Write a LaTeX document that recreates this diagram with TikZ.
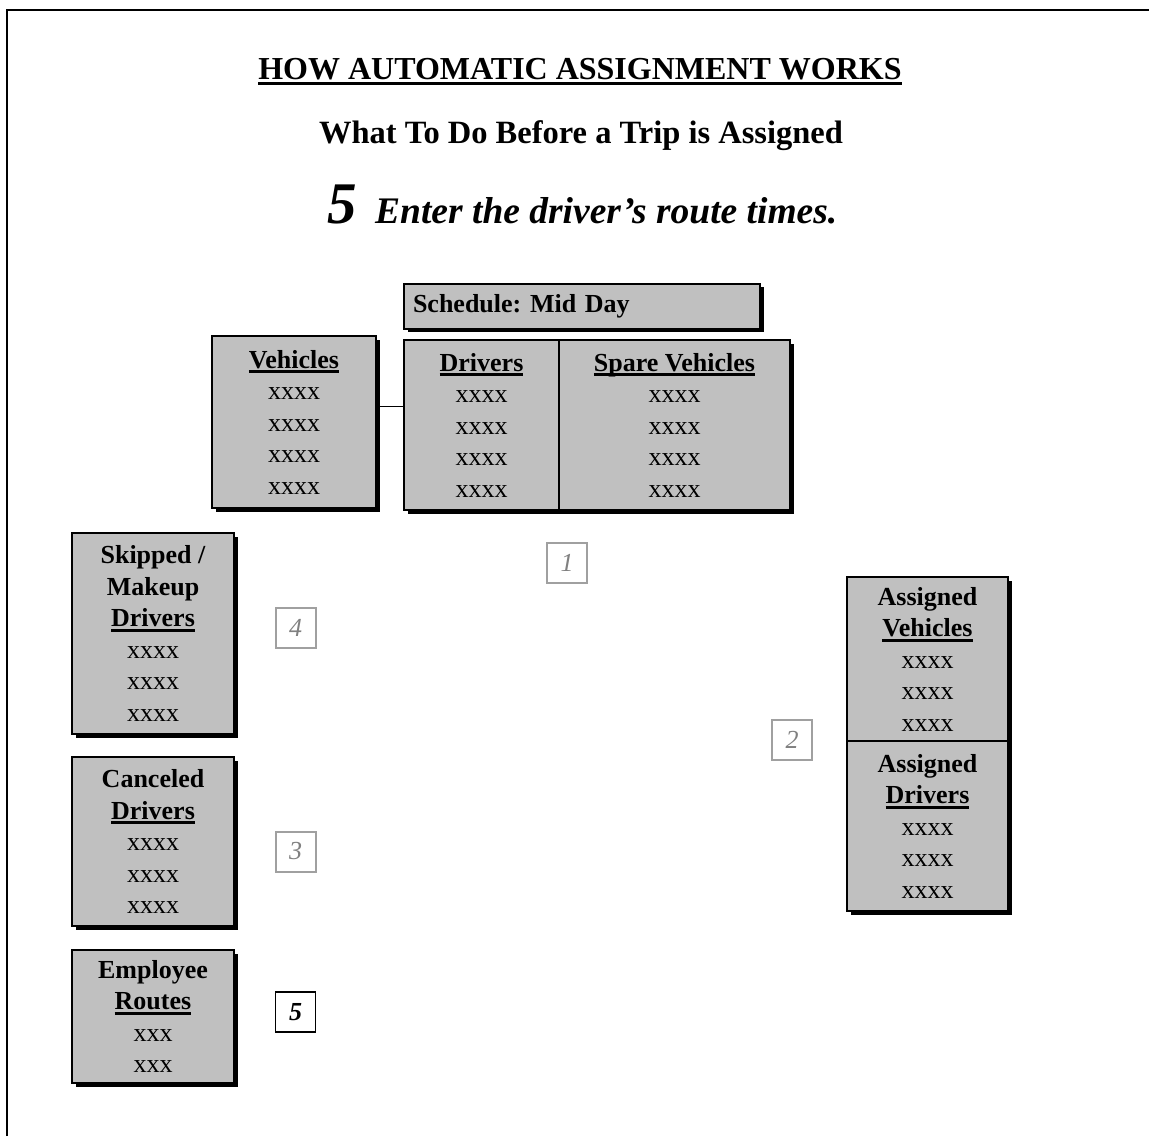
\documentclass[tikz,border=0pt]{standalone}
\usepackage{fontspec}
\setmainfont{Liberation Serif}
\usetikzlibrary{shadows}
\definecolor{boxgray}{HTML}{C0C0C0}
\definecolor{numgray}{HTML}{A0A0A0}
\definecolor{digitgray}{HTML}{808080}
\newcommand{\uln}[1]{\setbox0\hbox{#1}\rlap{\rule[-0.2em]{\wd0}{0.11em}}\box0}
\frenchspacing

\begin{document}
\begin{tikzpicture}[x=1pt,y=-1pt,
  tbl/.style={draw,line width=2pt,fill=boxgray,inner sep=0pt,align=center,
    font=\fontsize{26}{31.5}\selectfont,
    drop shadow={shadow xshift=3.5pt,shadow yshift=-3.5pt,fill=black,opacity=1}},
  numbox/.style={draw=numgray,line width=2pt,minimum size=40pt,inner sep=0pt,
    text=digitgray,font=\fontsize{26}{26}\selectfont\itshape}]
\useasboundingbox (0,0) rectangle (1149,1136);
\draw[line width=2.5pt] (7,1136) -- (7,10) -- (1149,10);
% headings
\node[anchor=base,font=\fontsize{32}{32}\selectfont\bfseries] (title) at (580,79) {\uln{HOW AUTOMATIC ASSIGNMENT WORKS}};
\node[anchor=base,font=\fontsize{32.5}{32.5}\selectfont\bfseries] (sub) at (581,143) {What To Do Before a Trip is Assigned};
\node[anchor=base west,inner sep=0pt,font=\fontsize{37.5}{37.5}\selectfont\bfseries\itshape] (step) at (375,223) {Enter the driver’s route times.};
\node[anchor=base west,inner sep=0pt,font=\fontsize{59}{59}\selectfont\bfseries\itshape] (stepno) at (327,223) {5};
% schedule
\node[tbl,minimum width=356pt,minimum height=45pt,text width=338pt,align=left,font=\fontsize{26}{31.5}\selectfont\bfseries] (sched) at (582,306) {Schedule: Mid Day};
\node[tbl,minimum width=164pt,minimum height=172pt] (veh) at (294,422) {\bfseries\uln{Vehicles}\\xxxx\\xxxx\\xxxx\\xxxx};
\node[tbl,minimum width=155pt,minimum height=170pt] (drv) at (481.5,425) {\bfseries\uln{Drivers}\\xxxx\\xxxx\\xxxx\\xxxx};
\node[tbl,minimum width=231pt,minimum height=170pt] (spare) at (674.5,425) {\bfseries\uln{Spare Vehicles}\\xxxx\\xxxx\\xxxx\\xxxx};
\draw[line width=1pt] ([yshift=16pt]veh.east) -- ([yshift=16pt]veh.east -| drv.west);
% left column
\node[tbl,minimum width=162pt,minimum height=201pt] (skip) at (153,633.5) {\bfseries Skipped /\\\bfseries Makeup\\\bfseries\uln{Drivers}\\xxxx\\xxxx\\xxxx};
\node[tbl,minimum width=162pt,minimum height=169pt] (canc) at (153,841.5) {\bfseries Canceled\\\bfseries\uln{Drivers}\\xxxx\\xxxx\\xxxx};
\node[tbl,minimum width=162pt,minimum height=133pt] (emp) at (153,1016.5) {\bfseries Employee\\\bfseries\uln{Routes}\\xxx\\xxx};
% right column
\node[tbl,minimum width=161pt,minimum height=164pt] (asgveh) at (927.5,659) {\bfseries Assigned\\\bfseries\uln{Vehicles}\\xxxx\\xxxx\\xxxx};
\node[tbl,minimum width=161pt,minimum height=170pt] (asgdrv) at (927.5,826) {\bfseries Assigned\\\bfseries\uln{Drivers}\\xxxx\\xxxx\\xxxx};
% step numbers
\foreach \n/\px/\py in {1/567/563,4/295.5/627.5,2/792/739.5,3/295.5/851.5}{
  \node[numbox] (num\n) at (\px,\py) {\n};}
\node[numbox,draw=black,line width=1.5pt,text=black,font=\fontsize{26}{26}\selectfont\bfseries\itshape] (num5) at (295.5,1012) {5};
\end{tikzpicture}
\end{document}
